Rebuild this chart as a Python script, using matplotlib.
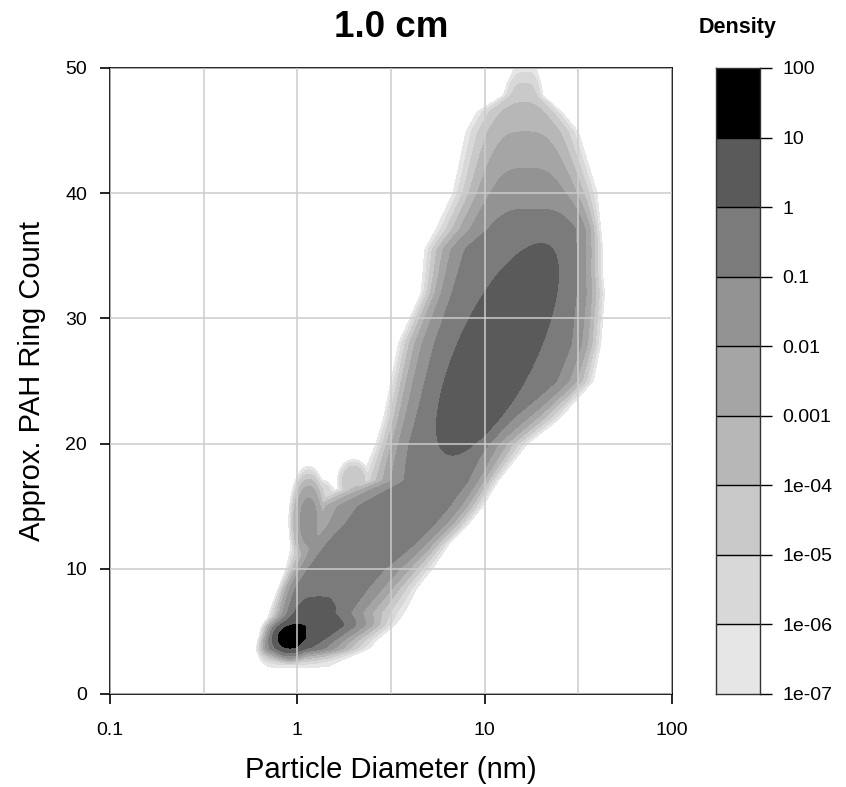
import numpy as np
import matplotlib
matplotlib.use("Agg")
import matplotlib.pyplot as plt
from matplotlib.ticker import FixedLocator, NullFormatter

plt.rcParams['font.family'] = ['Liberation Sans', 'DejaVu Sans']

# ---- data ----
title = "1.0 cm"
x_label = "Particle Diameter (nm)"
y_label = "Approx. PAH Ring Count"
cbar_title = "Density"
x_ticks = [0.1, 1, 10, 100]
x_tick_labels = ["0.1", "1", "10", "100"]
y_ticks = [0, 10, 20, 30, 40, 50]
level_exps = [-7, -6, -5, -4, -3, -2, -1, 0, 1, 2]
level_labels = ["1e-07", "1e-06", "1e-05", "1e-04", "0.001", "0.01", "0.1", "1", "10", "100"]
level_colors = ["#e6e6e6", "#d8d8d8", "#c9c9c9", "#b7b7b7", "#a5a5a5",
                "#939393", "#7b7b7b", "#5a5a5a", "#000000"]

# ridge profile read row by row (ring count -> log10 diameter of the crest,
# log10 density at the crest, distance in log10 diameter to the 1e-07 edge
# on the left/right, and steepness of each flank)
ridge_y  = [1.5, 2.1, 2.6, 3.1, 3.6, 4.4, 5.5, 6.5, 7.3, 8.5, 10, 12, 13.5, 15, 16, 17, 20, 22, 25, 28, 32, 33.5, 35.5, 37.1, 40, 42, 44.9, 46.5, 47.8, 48.8, 49.7, 50.5]
ridge_c  = [0.0, 0.0, 0.0, 0.0, 0.0, 0.02, 0.04, 0.07, 0.10, 0.16, 0.25, 0.45, 0.55, 0.64, 0.69, 0.74, 0.80, 0.90, 1.04, 1.12, 1.16, 1.18, 1.20, 1.25, 1.23, 1.22, 1.21, 1.21, 1.21, 1.21, 1.215, 1.215]
ridge_P  = [-9.0, -7.2, -5.0, -2.5, 0.2, 0.95, 1.0, 0.7, 0.15, -0.25, -0.4, -0.45, -0.45, -0.45, -0.42, -0.35, -0.3, -0.3, -0.3, -0.3, -0.3, -0.3, -0.4, -0.55, -1.35, -2.0, -3.0, -3.6, -4.3, -5.0, -6.0, -7.5]
ridge_dl = [0.12, 0.15, 0.19, 0.21, 0.22, 0.23, 0.20, 0.22, 0.23, 0.26, 0.31, 0.48, 0.55, 0.64, 0.55, 0.40, 0.38, 0.44, 0.54, 0.58, 0.50, 0.51, 0.52, 0.51, 0.40, 0.36, 0.31, 0.25, 0.11, 0.09, 0.065, 0.05]
ridge_dr = [0.12, 0.15, 0.22, 0.30, 0.38, 0.41, 0.48, 0.50, 0.50, 0.48, 0.47, 0.36, 0.36, 0.35, 0.34, 0.33, 0.43, 0.50, 0.54, 0.50, 0.48, 0.45, 0.43, 0.37, 0.37, 0.34, 0.29, 0.20, 0.10, 0.09, 0.065, 0.05]
ridge_pl = [4.5, 4.5, 4.5, 4.5, 4.5, 4.7, 3.5, 2.5, 3.5, 5, 5, 5, 4, 3.5, 3, 2.7, 3.6, 4.5, 5.5, 5.6, 5.6, 5.0, 4.5, 3.4, 3.1, 3, 3, 3, 3, 3, 3, 3]
ridge_pr = [1.8, 1.8, 1.8, 1.8, 1.8, 1.8, 2.5, 1.75, 2.2, 2.8, 3.1, 3.5, 3.5, 3.5, 3.5, 3.5, 3.0, 3.2, 5.0, 6.0, 6.0, 6.0, 6.0, 5.9, 3.5, 3.4, 3.4, 3.4, 3.4, 3.4, 3.4, 3.4]

# compact peaks and side lobes (log10 diameter, ring count, spreads, tilt,
# log10 peak density, steepness)
lobe_u    = [-0.04, 0.06, 0.11, 0.30, 1.07]
lobe_y    = [4.5, 13.8, 16.0, 17.0, 27.6]
lobe_su   = [0.08, 0.06, 0.07, 0.06, 0.335]
lobe_sy   = [1.1, 2.5, 0.9, 1.2, 8.7]
lobe_rho  = [0.0, 0.0, 0.0, 0.0, 0.72]
lobe_logA = [1.35, -1.6, -5.0, -4.0, 0.6]
lobe_p    = [3, 3, 3, 3, 6]

# ---- field ----
u = np.linspace(-1, 2, 900)
yv = np.linspace(0, 50, 800)
U, Y = np.meshgrid(u, yv)

def prof(vals):
    a = np.interp(yv, ridge_y, vals)
    k = 5
    pad = np.pad(a, k // 2, mode='edge')
    return np.convolve(pad, np.ones(k) / k, mode='valid')[:, None]

c, P, dl, dr, pl, pr = (prof(v) for v in (ridge_c, ridge_P, ridge_dl, ridge_dr, ridge_pl, ridge_pr))
span = np.maximum(P + 7, 0.05)
wl = dl / span ** (1 / pl)
wr = dr / span ** (1 / pr)
d = U - c
L = np.where(d >= 0, P - (np.abs(d) / wr) ** pr, P - (np.abs(d) / wl) ** pl)
dens = 10.0 ** L
for u0, y0, su, sy, rho, la, p in zip(lobe_u, lobe_y, lobe_su, lobe_sy, lobe_rho, lobe_logA, lobe_p):
    du = (U - u0) / su
    dy = (Y - y0) / sy
    q = (du ** 2 - 2 * rho * du * dy + dy ** 2) / (1 - rho ** 2)
    dens += 10.0 ** np.maximum(la - q ** (p / 2), -300)
logd = np.log10(np.maximum(dens, 1e-300))

# ---- figure ----
fig = plt.figure(figsize=(8.46, 7.87), dpi=100)
W, H = 846, 787
ax = fig.add_axes([110 / W, 1 - 694 / H, 562 / W, 626 / H])
ax.contourf(10 ** U, Y, logd, levels=level_exps, colors=level_colors, zorder=1)
ax.set_xscale('log')
ax.set_xlim(0.1, 100)
ax.set_ylim(0, 50)
ax.xaxis.set_major_locator(FixedLocator(x_ticks))
ax.set_xticklabels(x_tick_labels)
ax.xaxis.set_minor_locator(FixedLocator([10 ** -0.5, 10 ** 0.5, 10 ** 1.5]))
ax.xaxis.set_minor_formatter(NullFormatter())
ax.set_yticks(y_ticks)
ax.tick_params(which='minor', length=0)
ax.tick_params(which='major', length=7.2, width=1.2, direction='out', labelsize=14, colors='black')
ax.tick_params(axis='x', which='major', pad=13)
ax.tick_params(axis='y', which='major', pad=9.4)
ax.set_axisbelow(False)
ax.grid(True, which='both', color='#cccccc', linewidth=1.1)
for s in ax.spines.values():
    s.set_linewidth(1.2)
ax.set_xlabel(x_label, fontsize=21, labelpad=12)
ax.set_ylabel(y_label, fontsize=21, labelpad=14)
fig.text(391 / W, 1 - 37 / H, title, ha='center', va='baseline', fontsize=26.5, fontweight='bold')

# ---- colorbar ----
cax = fig.add_axes([716 / W, 1 - 694 / H, 44 / W, 626 / H])
n = len(level_colors)
for i in range(n):
    cax.bar(0.5, 1, bottom=i, width=1, color=level_colors[i], edgecolor='none')
for i in range(1, n):
    cax.axhline(i, color='black', linewidth=1.0)
cax.set_xlim(0, 1)
cax.set_ylim(0, n)
cax.set_xticks([])
cax.yaxis.tick_right()
cax.set_yticks(range(n + 1))
cax.set_yticklabels(level_labels)
cax.tick_params(axis='y', length=8.6, width=1.0, labelsize=14, pad=7.5)
for s in cax.spines.values():
    s.set_linewidth(1.0)
    s.set_color('#333333')
fig.text(738 / W, 1 - 33 / H, cbar_title, ha='center', va='baseline', fontsize=15.5, fontweight='bold')

fig.savefig('out.png', dpi=100)
